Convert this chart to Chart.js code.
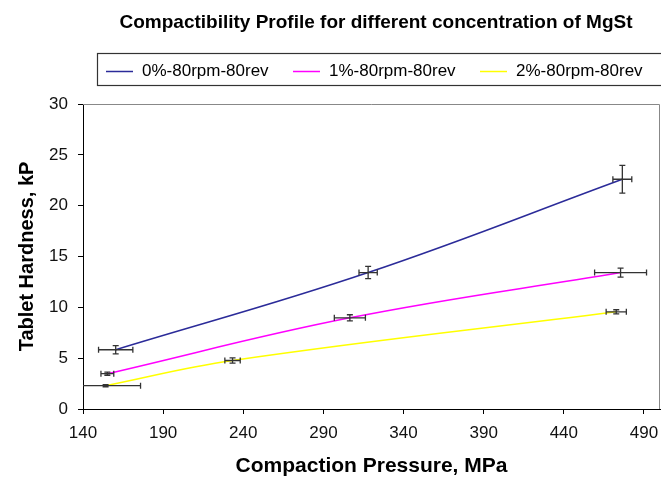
<!DOCTYPE html>
<html>
<head>
<meta charset="utf-8">
<script src="https://cdn.jsdelivr.net/npm/chart.js@4/dist/chart.umd.min.js"></script>
<style>
  html, body { margin: 0; padding: 0; background: #fff; }
  #wrap { width: 661px; height: 477px; position: relative; }
</style>
</head>
<body>
<div id="wrap"><canvas id="chart"></canvas></div>
<script>
// values
let seriesNames = ["0%-80rpm-80rev", "1%-80rpm-80rev", "2%-80rpm-80rev"];
let seriesColors = ["#2b2b99", "#ff00ff", "#ffff00"];

let pressure0 = [160.4, 317.9, 476.5];
let hardness0 = [5.83, 13.42, 22.6];
let pressureErr0 = [10.7, 5.7, 5.9];
let hardnessErr0 = [0.4, 0.6, 1.37];

let pressure1 = [155.2, 306.5, 475.4];
let hardness1 = [3.47, 8.97, 13.42];
let pressureErr1 = [4, 9.7, 16.2];
let hardnessErr1 = [0.15, 0.3, 0.44];

let pressure2 = [154.1, 233.3, 472.7];
let hardness2 = [2.29, 4.77, 9.56];
let pressureErr2 = [21.8, 4.8, 6.3];
let hardnessErr2 = [0.1, 0.25, 0.2];

let xTicks = [140, 190, 240, 290, 340, 390, 440, 490];
let xMax = 500;
let yTicks = [0, 5, 10, 15, 20, 25, 30];

let chartTitle = "Compactibility Profile for different concentration of MgSt";
let xTitle = "Compaction Pressure, MPa";
let yTitle = "Tablet Hardness, kP";

let FONT = "'Liberation Sans', Arial, sans-serif";

function toPoints(xs, ys){
    let pts = [];
    for(let i = 0; i < xs.length; i++){
        pts.push({x: xs[i], y: ys[i]});
    }
    return pts;
}

let allX = [pressure0, pressure1, pressure2];
let allY = [hardness0, hardness1, hardness2];
let allXErr = [pressureErr0, pressureErr1, pressureErr2];
let allYErr = [hardnessErr0, hardnessErr1, hardnessErr2];

let datasets = [];
for(let i = 0; i < 3; i++){
    datasets.push({
        label: seriesNames[i],
        data: toPoints(allX[i], allY[i]),
        borderColor: seriesColors[i],
        backgroundColor: seriesColors[i],
        borderWidth: 1.5,
        pointRadius: 0,
        tension: 0.4,
        showLine: true,
        fill: false
    });
}

// error bars, placed with the chart's own scales
let errorBars = {
    id: "errorBars",
    afterDatasetsDraw(chart){
        let ctx = chart.ctx;
        let xs = chart.scales.x, ys = chart.scales.y;
        ctx.save();
        ctx.strokeStyle = "#333";
        ctx.lineWidth = 1.3;
        for(let s = 0; s < 3; s++){
            for(let i = 0; i < allX[s].length; i++){
                let cx = xs.getPixelForValue(allX[s][i]);
                let cy = ys.getPixelForValue(allY[s][i]);
                let lo = allX[s][i] - allXErr[s][i];
                let hi = allX[s][i] + allXErr[s][i];
                let x1 = xs.getPixelForValue(Math.max(lo, xs.min));
                let x2 = xs.getPixelForValue(hi);
                let y1 = ys.getPixelForValue(allY[s][i] + allYErr[s][i]);
                let y2 = ys.getPixelForValue(allY[s][i] - allYErr[s][i]);
                ctx.beginPath();
                ctx.moveTo(x1, cy); ctx.lineTo(x2, cy);
                if(lo >= xs.min){ ctx.moveTo(x1, cy - 3); ctx.lineTo(x1, cy + 3); }
                ctx.moveTo(x2, cy - 3); ctx.lineTo(x2, cy + 3);
                ctx.moveTo(cx, y1); ctx.lineTo(cx, y2);
                ctx.moveTo(cx - 3, y1); ctx.lineTo(cx + 3, y1);
                ctx.moveTo(cx - 3, y2); ctx.lineTo(cx + 3, y2);
                ctx.stroke();
            }
        }
        ctx.restore();
    }
};

// plot frame, title and boxed legend
let decorations = {
    id: "decorations",
    beforeDatasetsDraw(chart){
        let ctx = chart.ctx;
        let a = chart.chartArea;
        ctx.save();
        ctx.strokeStyle = "#888";
        ctx.lineWidth = 1;
        ctx.beginPath();
        ctx.moveTo(a.left, a.top + 0.5);
        ctx.lineTo(a.right - 0.5, a.top + 0.5);
        ctx.lineTo(a.right - 0.5, a.bottom);
        ctx.stroke();
        ctx.restore();
    },
    afterDraw(chart){
        let ctx = chart.ctx;
        ctx.save();
        ctx.fillStyle = "#000";
        ctx.font = "bold 19px " + FONT;
        ctx.textAlign = "center";
        ctx.textBaseline = "middle";
        ctx.fillText(chartTitle, 376, 23);

        ctx.strokeStyle = "#333";
        ctx.lineWidth = 1.2;
        ctx.strokeRect(97.5, 53.5, 600, 32);

        let lineStarts = [106, 293, 480];
        ctx.font = "17px " + FONT;
        ctx.textAlign = "left";
        for(let i = 0; i < 3; i++){
            ctx.strokeStyle = seriesColors[i];
            ctx.lineWidth = 1.5;
            ctx.beginPath();
            ctx.moveTo(lineStarts[i], 71.5);
            ctx.lineTo(lineStarts[i] + 27, 71.5);
            ctx.stroke();
            ctx.fillStyle = "#000";
            ctx.fillText(seriesNames[i], lineStarts[i] + 36, 71);
        }
        ctx.restore();
    }
};

new Chart(document.getElementById("chart"), {
    type: "scatter",
    data: { datasets: datasets },
    options: {
        responsive: true,
        maintainAspectRatio: false,
        animation: false,
        layout: { padding: { top: 104, right: 1, left: 0, bottom: 0 } },
        plugins: {
            legend: { display: false },
            title: { display: false },
            tooltip: { enabled: false }
        },
        scales: {
            x: {
                type: "linear",
                min: xTicks[0],
                max: xMax,
                afterBuildTicks(scale){ scale.ticks = xTicks.map(v => ({value: v})); },
                afterFit(scale){
                    scale.height = 68;
                    scale.paddingLeft = 0;
                    scale.paddingRight = 0;
                },
                ticks: { color: "#111", padding: 9, font: { family: FONT, size: 17 } },
                grid: { drawOnChartArea: false, tickLength: 5, color: "#000" },
                border: { color: "#000", width: 1 },
                title: {
                    display: true, text: xTitle, color: "#000",
                    font: { family: FONT, size: 21, weight: "bold" },
                    padding: { top: 0, bottom: -2 }
                }
            },
            y: {
                min: yTicks[0],
                max: yTicks[yTicks.length - 1],
                afterBuildTicks(scale){ scale.ticks = yTicks.map(v => ({value: v})); },
                afterFit(scale){
                    scale.width = 83;
                    scale.paddingTop = 0;
                    scale.paddingBottom = 0;
                },
                ticks: { color: "#111", padding: 10, font: { family: FONT, size: 17 } },
                grid: { drawOnChartArea: false, tickLength: 5, color: "#000" },
                border: { color: "#000", width: 1 },
                title: {
                    display: true, text: yTitle, color: "#000",
                    font: { family: FONT, size: 20, weight: "bold" },
                    padding: { top: 15, bottom: 0 }
                }
            }
        }
    },
    plugins: [errorBars, decorations]
});
</script>
</body>
</html>
